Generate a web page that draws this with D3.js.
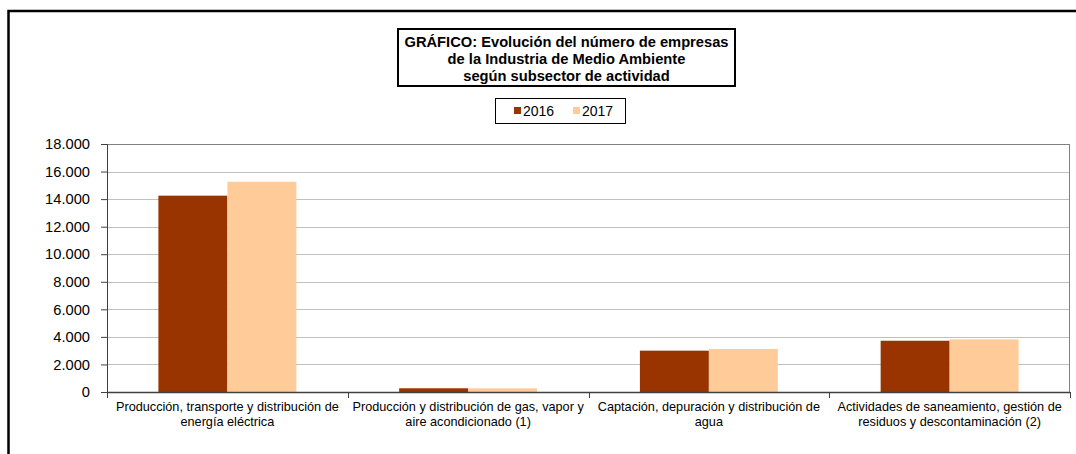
<!DOCTYPE html>
<html>
<head>
<meta charset="utf-8">
<script src="https://d3js.org/d3.v7.min.js"></script>
<style>
  body { margin: 0; background: #fff; }
  svg { display: block; font-family: Arial, "Liberation Sans", sans-serif; }
</style>
</head>
<body>
<div id="chart"></div>
<script>
const categories = [
    "Producción, transporte y distribución de energía eléctrica",
    "Producción y distribución de gas, vapor y aire acondicionado (1)",
    "Captación, depuración y distribución de agua",
    "Actividades de saneamiento, gestión de residuos y descontaminación (2)"
];
const series = ["2016", "2017"];
const values2016 = [14250, 270, 3000, 3720];
const values2017 = [15260, 270, 3120, 3820];
const yTicks = [0, 2000, 4000, 6000, 8000, 10000, 12000, 14000, 16000, 18000];
const titleLines = [
    "GRÁFICO: Evolución del número de empresas",
    "de la Industria de Medio Ambiente",
    "según subsector de actividad"
];

const colors = {"2016": "#993300", "2017": "#FFCC99"};

const width = 1076, height = 454;
const margin = {top: 144, right: 6, bottom: 62, left: 107};
const box_width = width - margin.left - margin.right;
const box_height = height - margin.top - margin.bottom;

const svg = d3.select("#chart")
    .append("svg")
    .attr("width", width)
    .attr("height", height);

// outer frame (runs off the right and bottom of the picture)
svg.append("rect")
    .attr("x", 8.5).attr("y", 11)
    .attr("width", 1200).attr("height", 600)
    .attr("fill", "none")
    .attr("stroke", "#000")
    .attr("stroke-width", 2.5);

// title box
const titleBox = {x: 398, y: 29, w: 337, h: 57};
svg.append("rect")
    .attr("x", titleBox.x).attr("y", titleBox.y)
    .attr("width", titleBox.w).attr("height", titleBox.h)
    .attr("fill", "#fff")
    .attr("stroke", "#000")
    .attr("stroke-width", 2);

svg.append("text")
    .attr("text-anchor", "middle")
    .attr("font-size", 14.7)
    .attr("font-weight", "bold")
    .selectAll("tspan")
    .data(titleLines)
    .enter()
    .append("tspan")
    .attr("x", titleBox.x + titleBox.w / 2)
    .attr("y", (d, i) => 47 + i * 16.8)
    .text(d => d);

// legend
const legend = svg.append("g");
legend.append("rect")
    .attr("x", 495.5).attr("y", 98.5)
    .attr("width", 130).attr("height", 25)
    .attr("fill", "#fff")
    .attr("stroke", "#000")
    .attr("stroke-width", 1);

const legendX = d3.scaleOrdinal().domain(series).range([514, 573]);
const legendItem = legend.selectAll("g.item")
    .data(series)
    .enter()
    .append("g")
    .attr("class", "item")
    .attr("transform", d => "translate(" + legendX(d) + ",107)");
legendItem.append("rect")
    .attr("width", 7).attr("height", 7)
    .attr("fill", d => colors[d]);
legendItem.append("text")
    .attr("x", 9).attr("y", 9)
    .attr("font-size", 14)
    .text(d => d);

const g = svg.append("g")
    .attr("transform", "translate(" + margin.left + "," + margin.top + ")");

const x = d3.scaleBand()
    .domain(categories)
    .range([0, box_width])
    .paddingInner(0.427)
    .paddingOuter(0.2135);

const xInner = d3.scaleBand()
    .domain(series)
    .range([0, x.bandwidth()]);

const y = d3.scaleLinear()
    .domain([0, 18000])
    .range([box_height, 0]);

// gridlines
g.append("g")
    .selectAll("line")
    .data(yTicks.slice(1))
    .enter()
    .append("line")
    .attr("x1", 0).attr("x2", box_width)
    .attr("y1", d => Math.round(y(d)) + 0.5)
    .attr("y2", d => Math.round(y(d)) + 0.5)
    .attr("stroke", "#c0c0c0")
    .attr("stroke-width", 1);

// plot area border
g.append("rect")
    .attr("x", 0.5).attr("y", 0.5)
    .attr("width", box_width - 1).attr("height", box_height)
    .attr("fill", "none")
    .attr("stroke", "#808080")
    .attr("stroke-width", 1);

// bars
const data = categories.map((c, i) => ({
    cat: c,
    vals: [
        {s: "2016", v: values2016[i]},
        {s: "2017", v: values2017[i]}
    ]
}));

g.selectAll("g.group")
    .data(data)
    .enter()
    .append("g")
    .attr("class", "group")
    .attr("transform", d => "translate(" + x(d.cat) + ",0)")
    .selectAll("rect")
    .data(d => d.vals)
    .enter()
    .append("rect")
    .attr("x", d => xInner(d.s))
    .attr("y", d => y(d.v))
    .attr("width", xInner.bandwidth())
    .attr("height", d => box_height - y(d.v))
    .attr("fill", d => colors[d.s]);

// y axis
const yAxis = g.append("g")
    .call(d3.axisLeft(y)
        .tickValues(yTicks)
        .tickSize(6)
        .tickPadding(11)
        .tickFormat(d => d3.format(",")(d).replace(/,/g, ".")));
yAxis.select(".domain").attr("stroke", "#404040");
yAxis.selectAll(".tick line").attr("stroke", "#404040");
yAxis.selectAll("text")
    .attr("font-size", 14.7)
    .attr("font-family", "Arial, 'Liberation Sans', sans-serif")
    .attr("fill", "#000");

// x axis
const bounds = [0, ...categories.map((c, i) => (i + 1) * box_width / categories.length)];
const xAxis = g.append("g").attr("transform", "translate(0," + box_height + ")");
xAxis.append("line")
    .attr("x1", 0).attr("x2", box_width)
    .attr("y1", 0.5).attr("y2", 0.5)
    .attr("stroke", "#404040")
    .attr("stroke-width", 1.5);
xAxis.selectAll("line.tick")
    .data(bounds)
    .enter()
    .append("line")
    .attr("class", "tick")
    .attr("x1", d => Math.round(d) + 0.5)
    .attr("x2", d => Math.round(d) + 0.5)
    .attr("y1", 0).attr("y2", 6)
    .attr("stroke", "#404040");

// category labels, wrapped to two lines
function splitLabel(text, maxWidth, measure) {
    const words = text.split(" ");
    let lines = [], line = [];
    words.forEach(w => {
        const test = line.concat(w).join(" ");
        if (measure(test) > maxWidth && line.length) {
            lines.push(line.join(" "));
            line = [w];
        } else {
            line.push(w);
        }
    });
    lines.push(line.join(" "));
    return lines;
}

const labelSize = 12.7;
const measurer = svg.append("text").attr("font-size", labelSize).attr("visibility", "hidden");
const measure = t => { measurer.text(t); return measurer.node().getComputedTextLength(); };

categories.forEach((c, i) => {
    const cx = x(c) + x.bandwidth() / 2;
    const lines = splitLabel(c, 236, measure);
    xAxis.append("text")
        .attr("text-anchor", "middle")
        .attr("font-size", labelSize)
        .attr("fill", "#000")
        .selectAll("tspan")
        .data(lines)
        .enter()
        .append("tspan")
        .attr("x", cx)
        .attr("y", (d, j) => 19 + j * 15)
        .text(d => d);
});
measurer.remove();
</script>
</body>
</html>
